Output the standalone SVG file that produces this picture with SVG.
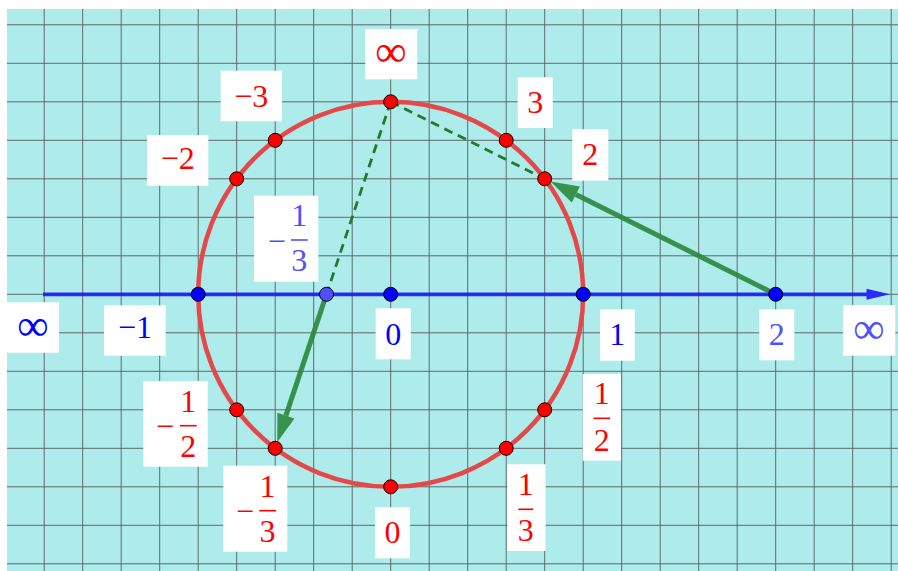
<svg xmlns="http://www.w3.org/2000/svg" width="898" height="571" viewBox="0 0 898 571">
<style>
.t{font-family:"Liberation Serif","Times New Roman",serif;font-size:32px;text-anchor:middle}
.inf{font-family:"Liberation Serif","Times New Roman",serif;font-size:44px;text-anchor:middle}
.r{fill:#ff0000}
.b{fill:#0000ff}
.lb{fill:#5050ff}
.box{fill:#ffffff}
.barr{stroke:#ff0000;stroke-width:1.6}
.barlb{stroke:#5050ff;stroke-width:1.6}
.rp{fill:#ff0000;stroke:#000;stroke-width:1}
.bp{fill:#0000ff;stroke:#000;stroke-width:1}
.grid{stroke:#5e6a6a;stroke-width:1;fill:none}
</style>
<rect x="7" y="9" width="891" height="562" fill="#aeecec"/>
<path class="grid" d="M44.2 9V571M82.7 9V571M121.2 9V571M159.7 9V571M198.2 9V571M236.7 9V571M275.2 9V571M313.7 9V571M352.2 9V571M390.7 9V571M429.2 9V571M467.7 9V571M506.2 9V571M544.7 9V571M583.2 9V571M621.7 9V571M660.2 9V571M698.7 9V571M737.2 9V571M775.7 9V571M814.2 9V571M852.7 9V571M891.2 9V571M7 24.8H898M7 63.3H898M7 101.8H898M7 140.3H898M7 178.8H898M7 217.3H898M7 255.8H898M7 294.3H898M7 332.8H898M7 371.3H898M7 409.8H898M7 448.3H898M7 486.8H898M7 525.3H898M7 563.8H898"/>
<circle cx="390.7" cy="294.3" r="192.5" fill="none" stroke="#e44848" stroke-width="4.5"/>
<g id="axis">
<line x1="43" y1="294.3" x2="870" y2="294.3" stroke="#1a1aff" stroke-width="3.8" opacity="0.9"/>
<polygon points="890,294.3 866.5,288.8 866.5,299.8" fill="#2a2aff"/>
</g>
<g id="connectors">
<line x1="390.7" y1="101.8" x2="544.7" y2="178.8" stroke="#227a2c" stroke-width="2.8" stroke-dasharray="9 6"/>
<line x1="390.7" y1="101.8" x2="326.5" y2="294.3" stroke="#227a2c" stroke-width="2.8" stroke-dasharray="9 6"/>
<line x1="775.7" y1="294.3" x2="575.9" y2="194.4" stroke="#2b8a3e" stroke-width="5" opacity="0.92"/>
<polygon points="550.5,181.6 579.9,186.4 571.8,202.5" fill="#2b8a3e" opacity="0.92"/>
<line x1="326.5" y1="294.3" x2="285.9" y2="415.6" stroke="#2b8a3e" stroke-width="5" opacity="0.92"/>
<polygon points="277.3,442.1 294.5,418.4 277.4,412.7" fill="#2b8a3e" opacity="0.92"/>
</g>
<g id="circle-points">
<circle class="rp" cx="390.7" cy="101.8" r="7"/>
<circle class="rp" cx="506.2" cy="140.3" r="7"/>
<circle class="rp" cx="544.7" cy="178.8" r="7"/>
<circle class="rp" cx="275.2" cy="140.3" r="7"/>
<circle class="rp" cx="236.7" cy="178.8" r="7"/>
<circle class="rp" cx="544.7" cy="409.8" r="7"/>
<circle class="rp" cx="506.2" cy="448.3" r="7"/>
<circle class="rp" cx="390.7" cy="486.8" r="7"/>
<circle class="rp" cx="236.7" cy="409.8" r="7"/>
<circle class="rp" cx="275.2" cy="448.3" r="7"/>
</g>
<g id="axis-points">
<circle class="bp" cx="198.2" cy="294.3" r="7"/>
<circle class="bp" cx="390.7" cy="294.3" r="7"/>
<circle class="bp" cx="583.2" cy="294.3" r="7"/>
<circle class="bp" cx="775.7" cy="294.3" r="7"/>
<circle cx="326.5" cy="294.3" r="7" fill="#5050ff" stroke="#000" stroke-width="1"/>
</g>
<g id="label-inf-top"><rect class="box" x="365.3" y="29" width="52" height="50.3"/><text class="inf r" x="391" y="66">∞</text></g>
<g id="label-3"><rect class="box" x="517.7" y="77.3" width="35" height="50.7"/><text class="t r" x="535.2" y="112.7">3</text></g>
<g id="label-2"><rect class="box" x="572.3" y="129.3" width="36" height="51.4"/><text class="t r" x="590.3" y="165">2</text></g>
<g id="label-m3"><rect class="box" x="220.7" y="70.7" width="61.3" height="50.6"/><text class="t r" x="251.3" y="106.7">−3</text></g>
<g id="label-m2"><rect class="box" x="147" y="135" width="61.3" height="50.7"/><text class="t r" x="177.7" y="169.3">−2</text></g>
<g id="label-axis-m13"><rect class="box" x="254" y="195.7" width="64.3" height="86"/><text class="t lb" x="276.7" y="251.5">−</text><line class="barlb" x1="291" y1="240" x2="307.7" y2="240"/><text class="t lb" x="299.3" y="225.7">1</text><text class="t lb" x="299.3" y="271">3</text></g>
<g id="label-inf-left"><rect class="box" x="7" y="302.3" width="52" height="50.4"/><text class="inf b" x="33" y="340">∞</text></g>
<g id="label-m1"><rect class="box" x="104" y="305.3" width="61.7" height="50.4"/><text class="t b" x="135" y="338.3">−1</text></g>
<g id="label-axis-0"><rect class="box" x="375.7" y="308.3" width="35" height="51"/><text class="t b" x="393.2" y="345">0</text></g>
<g id="label-axis-1"><rect class="box" x="600" y="309.3" width="34.7" height="51.4"/><text class="t b" x="617.3" y="345">1</text></g>
<g id="label-axis-2"><rect class="box" x="759.3" y="309.3" width="35" height="51"/><text class="t lb" x="776.8" y="345">2</text></g>
<g id="label-inf-right"><rect class="box" x="843" y="305" width="52.3" height="50.7"/><text class="inf lb" x="869" y="343">∞</text></g>
<g id="label-m12"><rect class="box" x="143.3" y="381" width="64.4" height="85.7"/><text class="t r" x="165" y="437.2">−</text><line class="barr" x1="180" y1="425.7" x2="196.7" y2="425.7"/><text class="t r" x="188.3" y="411.7">1</text><text class="t r" x="188.3" y="457.3">2</text></g>
<g id="label-12"><rect class="box" x="582.7" y="374" width="38.3" height="86.7"/><line class="barr" x1="593.3" y1="418.3" x2="610" y2="418.3"/><text class="t r" x="601.7" y="404">1</text><text class="t r" x="601.7" y="450.7">2</text></g>
<g id="label-m13"><rect class="box" x="223.3" y="465.7" width="64" height="86"/><text class="t r" x="245" y="522.2">−</text><line class="barr" x1="259.3" y1="510.7" x2="276" y2="510.7"/><text class="t r" x="267.6" y="496.7">1</text><text class="t r" x="267.6" y="542.3">3</text></g>
<g id="label-13"><rect class="box" x="507.3" y="464.3" width="38.4" height="86.7"/><line class="barr" x1="518.3" y1="509.3" x2="533.3" y2="509.3"/><text class="t r" x="525.8" y="495">1</text><text class="t r" x="525.8" y="540.7">3</text></g>
<g id="label-0"><rect class="box" x="375" y="507.3" width="35" height="51"/><text class="t r" x="392.5" y="543.3">0</text></g>
</svg>
